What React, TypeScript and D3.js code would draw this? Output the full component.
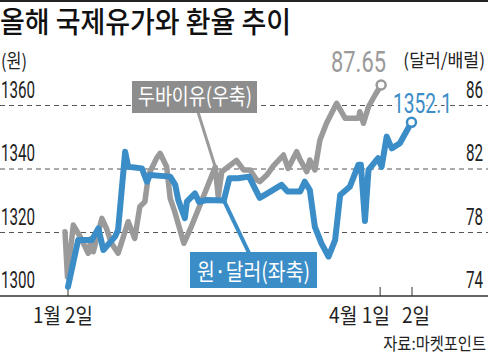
import React from 'react';
import * as d3 from 'd3';

const W = 488;
const H = 355;

const titleText = '올해 국제유가와 환율 추이';
const leftUnit = '(원)';
const rightUnit = '(달러/배럴)';
const sourceText = '자료:마켓포인트';
const oilSeriesName = '두바이유(우축)';
const wonSeriesName = '원·달러(좌축)';
const lastWonLabel = '1352.1';
const lastOilLabel = '87.65';

// trading-day position (0 = Jan 2, 68 = Apr 2) and KRW/USD
const wonDay = [0, 2.0, 4.7, 6.0, 7.0, 9.3, 9.9, 11.3, 11.9, 14.6, 15.6, 16.2, 20.2, 21.2, 21.8, 23.1, 23.5, 25.1, 25.9, 27.3, 30.8, 31.9, 33.6, 35.8, 36.6, 37.9, 39.5, 42.2, 43.4, 45.9, 46.8, 47.8, 48.8, 50.1, 51.5, 52.8, 53.8, 55.7, 57.4, 57.9, 58.7, 59.4, 61.3, 62.0, 63.0, 64.0, 65.6, 67.9];
const wonRate = [1302.9, 1317.6, 1317.6, 1321.3, 1314.5, 1318.7, 1320.8, 1345.4, 1340.7, 1340.2, 1336.0, 1338.1, 1337.6, 1335.0, 1330.2, 1324.5, 1329.7, 1332.3, 1329.6, 1330.2, 1330.1, 1337.1, 1337.1, 1337.6, 1335.0, 1330.9, 1332.4, 1335.0, 1332.9, 1332.9, 1336.0, 1333.4, 1321.8, 1316.6, 1312.4, 1317.6, 1331.8, 1334.4, 1341.3, 1341.3, 1323.6, 1339.7, 1343.4, 1340.7, 1350.2, 1346.5, 1348.1, 1354.7];

// Dubai crude (USD/bbl)
const oilDay = [-0.6, -0.1, 1.05, 2.4, 4.0, 4.6, 5.0, 6.7, 7.6, 8.6, 9.9, 11.9, 13.2, 14.2, 15.2, 15.9, 17.5, 18.2, 19.5, 20.2, 21.1, 22.9, 24.1, 26.1, 29.1, 29.7, 30.4, 33.3, 34.7, 36.0, 37.3, 37.9, 39.3, 40.6, 42.6, 43.5, 45.2, 45.9, 47.2, 47.8, 48.8, 49.8, 51.1, 53.1, 54.8, 57.4, 57.7, 58.4, 59.4, 60.7, 61.9];
const oilPrice = [78.05, 75.21, 78.47, 77.74, 76.69, 77.6, 76.79, 78.89, 78.26, 77.32, 76.69, 78.68, 77.63, 79.63, 79.94, 81.62, 82.67, 82.99, 82.14, 80.15, 79.31, 77.32, 78.16, 79.73, 82.13, 80.26, 81.83, 82.54, 81.94, 81.94, 81.31, 81.2, 81.62, 82.19, 82.88, 82.04, 83.09, 82.57, 81.83, 82.57, 81.94, 83.83, 84.88, 86.14, 85.19, 85.19, 85.61, 84.88, 85.92, 86.66, 87.29];

const wonTicks = [1300, 1320, 1340, 1360];
const oilTicks = [74, 78, 82, 86];
const dateTicks = [0, 61.7, 68];
const dateLabels = ['1월 2일', '4월 1일', '2일'];

const BLUE = '#3b8dc7';
const GRAY = '#9a9a9a';
const FONT = "'Noto Sans CJK KR', 'Noto Sans', sans-serif";
const NUM = "Roboto, 'Liberation Sans', sans-serif";
const NUM_SQUEEZE = 0.66;

export default function App() {
  const x = d3.scaleLinear().domain([0, 68]).range([68, 412]);
  const yL = d3.scaleLinear().domain([1300, 1360]).range([296, 105.5]);
  const yR = d3.scaleLinear().domain([74, 86]).range([296, 105.5]);

  const wonPts: [number, number][] = wonDay.map((d, i) => [d, wonRate[i]]);
  const oilPts: [number, number][] = oilDay.map((d, i) => [d, oilPrice[i]]);

  const wonLine = d3.line<[number, number]>().x(d => x(d[0])).y(d => yL(d[1]));
  const oilLine = d3.line<[number, number]>().x(d => x(d[0])).y(d => yR(d[1]));

  const lastWon = wonPts[wonPts.length - 1];
  const lastOil = oilPts[oilPts.length - 1];

  const dateStart = [33, 329, 402];
  const dateLen = [60, 61, 28];

  return (
    <svg width={W} height={H} style={{ position: 'absolute', left: 0, top: 0, background: '#fff' }}>
      <line x1={0} x2={W} y1={1} y2={1} stroke="#222" strokeWidth={2} />
      <text x={0} y={33} fontFamily={FONT} fontSize={29} fontWeight={500} fill="#111" textLength={291} lengthAdjust="spacingAndGlyphs">{titleText}</text>

      <text x={1} y={68} fontFamily={FONT} fontSize={19} fill="#222" textLength={26} lengthAdjust="spacingAndGlyphs">{leftUnit}</text>
      <g transform="translate(485,67) scale(0.93,1)">
        <text x={0} y={0} textAnchor="end" fontFamily={FONT} fontSize={18.5} fill="#222">{rightUnit}</text>
      </g>

      {wonTicks.map(v => (
        <g key={v}>
          {v !== 1300 && (
            <line x1={0} x2={W} y1={yL(v)} y2={yL(v)} stroke="#555" strokeWidth={1} strokeDasharray="5,4" />
          )}
          <g transform={`translate(1,${yL(v) - 8}) scale(${NUM_SQUEEZE},1)`}>
            <text x={0} y={0} fontFamily={NUM} fontSize={23} fill="#222">{v}</text>
          </g>
        </g>
      ))}
      {oilTicks.map(v => (
        <g key={v} transform={`translate(483,${yR(v) - 8}) scale(${NUM_SQUEEZE},1)`}>
          <text x={0} y={0} textAnchor="end" fontFamily={NUM} fontSize={23} fill="#222">{v}</text>
        </g>
      ))}

      <line x1={0} x2={W} y1={yL(1300)} y2={yL(1300)} stroke="#333" strokeWidth={1.5} />
      {dateTicks.map((t, i) => (
        <g key={i}>
          <line x1={x(t)} x2={x(t)} y1={yL(1300) - 9} y2={yL(1300)} stroke="#333" strokeWidth={1} />
          <text x={dateStart[i]} y={323} fontFamily={FONT} fontSize={21} fill="#222" textLength={dateLen[i]} lengthAdjust="spacingAndGlyphs">{dateLabels[i]}</text>
        </g>
      ))}

      <path d={oilLine(oilPts) || ''} fill="none" stroke={GRAY} strokeWidth={5.5} strokeLinejoin="round" strokeLinecap="round" />
      <path d={wonLine(wonPts) || ''} fill="none" stroke={BLUE} strokeWidth={6} strokeLinejoin="round" strokeLinecap="round" />

      <circle cx={x(lastOil[0])} cy={yR(lastOil[1])} r={4.5} fill="#fff" stroke={GRAY} strokeWidth={2.5} />
      <circle cx={x(lastWon[0])} cy={yL(lastWon[1])} r={4.5} fill="#fff" stroke={BLUE} strokeWidth={2.5} />

      <text x={331} y={72} fontFamily={NUM} fontSize={30} fill={GRAY} textLength={55} lengthAdjust="spacingAndGlyphs">{lastOilLabel}</text>
      <text x={393} y={112.5} fontFamily={NUM} fontSize={27} fill={BLUE} textLength={59} lengthAdjust="spacingAndGlyphs" stroke="#fff" strokeWidth={5} paintOrder="stroke" strokeLinejoin="round">{lastWonLabel}</text>

      <line x1={198} y1={112} x2={x(29.1)} y2={yR(82.13)} stroke={GRAY} strokeWidth={3} />
      <rect x={132} y={81} width={125} height={32} fill="#8d8d8d" />
      <text x={138} y={104} fontFamily={FONT} fontSize={22} fill="#fff" textLength={114} lengthAdjust="spacingAndGlyphs">{oilSeriesName}</text>

      <line x1={x(30.8)} y1={yL(1330.1)} x2={249} y2={253} stroke={BLUE} strokeWidth={4} />
      <rect x={190} y={252} width={127} height={36} fill={BLUE} />
      <text x={197} y={280} fontFamily={FONT} fontSize={23} fill="#fff" textLength={113} lengthAdjust="spacingAndGlyphs">{wonSeriesName}</text>

      <g transform="translate(486,350) scale(0.9,1)">
        <text x={0} y={0} textAnchor="end" fontFamily={FONT} fontSize={17} fill="#222">{sourceText}</text>
      </g>
    </svg>
  );
}
